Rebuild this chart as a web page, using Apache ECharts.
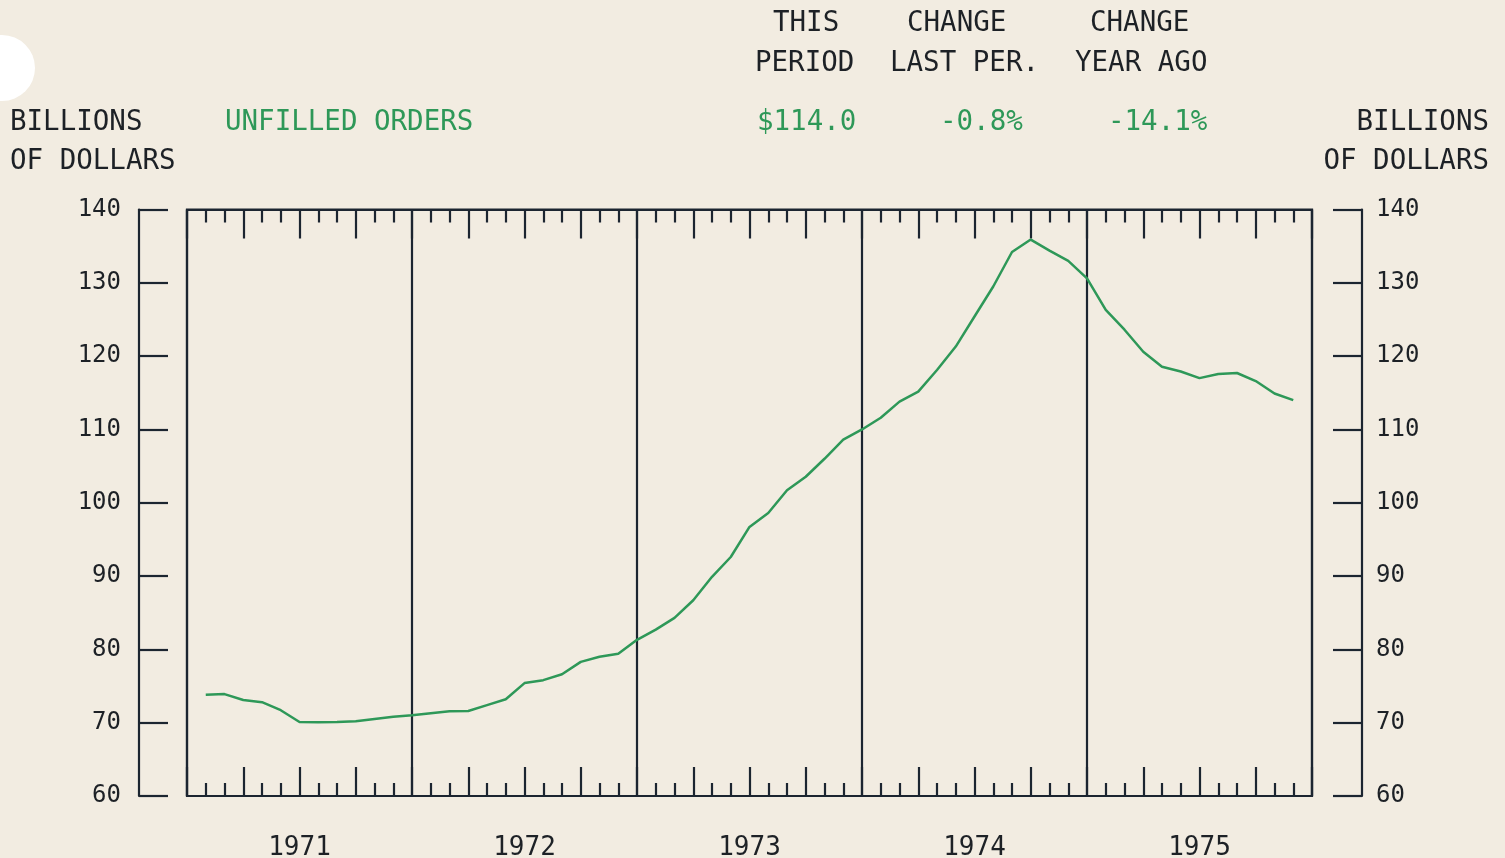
<!DOCTYPE html>
<html>
<head>
<meta charset="utf-8">
<script src="https://cdn.jsdelivr.net/npm/echarts@6/dist/echarts.min.js"></script>
<style>
  html, body { margin: 0; padding: 0; background: #f2ece1; }
  #chart { width: 1505px; height: 858px; }
</style>
</head>
<body>
<div id="chart"></div>
<script>
// ---- data ----
const years = ['1971', '1972', '1973', '1974', '1975'];
// monthly unfilled orders, billions of dollars (month 1 .. 59 of the 60-month span)
const unfilledOrders = [
  73.8, 73.9, 73.1, 72.8, 71.7, 70.1, 70.05, 70.1, 70.2, 70.5, 70.8, 71.0,
  71.3, 71.55, 71.6, 72.4, 73.2, 75.4, 75.8, 76.6, 78.3, 79.0, 79.4, 81.3,
  82.7, 84.3, 86.7, 89.9, 92.6, 96.7, 98.6, 101.7, 103.55, 106.0, 108.6, 110.0,
  111.6, 113.8, 115.15, 118.1, 121.3, 125.4, 129.5, 134.2, 135.9, 134.4, 133.0, 130.6,
  126.3, 123.6, 120.6, 118.55, 117.9, 117.0, 117.55, 117.7, 116.6, 114.9, 114.0
];
const yTicks = [60, 70, 80, 90, 100, 110, 120, 130, 140];
const seriesName = 'UNFILLED ORDERS';
const unitLabel = ['BILLIONS', 'OF DOLLARS'];
const headerTitles = [['THIS', 'PERIOD'], ['CHANGE', 'LAST PER.'], ['CHANGE', 'YEAR AGO']];
const headerValues = ['$114.0', '-0.8%', '-14.1%'];

// ---- style ----
const BG = '#f2ece1';
const INK = '#1d2126';
const AXIS = '#1c2530';
const GREEN = '#2e9858';
const FONT = '"DejaVu Sans Mono", "Liberation Mono", monospace';
const HF = 27.5;

const chart = echarts.init(document.getElementById('chart'), null, { renderer: 'canvas' });

const monthsTotal = years.length * 12;
const lineData = unfilledOrders.map((v, k) => [k + 1, v]);

function txt(text, x, y, color, align) {
  return {
    type: 'text', x: x, y: y,
    style: {
      text: text, fill: color || INK, font: HF + 'px ' + FONT,
      textAlign: align || 'left', textVerticalAlign: 'middle'
    }
  };
}

const headerX = [[773, 755], [907, 890], [1090, 1075]];
const valueX = [757, 940, 1108];
const graphics = [
  { type: 'circle', shape: { cx: 2, cy: 68, r: 33 }, style: { fill: '#ffffff' } },
  txt(unitLabel[0], 10, 123),
  txt(unitLabel[1], 10, 162),
  txt(seriesName, 225, 123, GREEN),
  txt(unitLabel[0], 1489, 123, INK, 'right'),
  txt(unitLabel[1], 1489, 162, INK, 'right')
];
headerTitles.forEach((pair, k) => {
  graphics.push(txt(pair[0], headerX[k][0], 24));
  graphics.push(txt(pair[1], headerX[k][1], 64));
  graphics.push(txt(headerValues[k], valueX[k], 123, GREEN));
});

const monthAxis = (pos) => ({
  type: 'value', position: pos, gridIndex: 0,
  min: 0, max: monthsTotal, interval: 3,
  axisLine: { show: true, onZero: false, lineStyle: { color: AXIS, width: 2.2 } },
  axisTick: { show: true, inside: true, length: 29, lineStyle: { color: AXIS, width: 2.2 } },
  minorTick: { show: true, splitNumber: 3, length: 13, lineStyle: { color: AXIS, width: 2.2 } },
  axisLabel: { show: false },
  splitLine: { show: false },
  minorSplitLine: { show: false }
});

const valueAxis = (pos, offset, labelAlignMargin) => ({
  type: 'value', position: pos, offset: offset,
  min: yTicks[0], max: yTicks[yTicks.length - 1], interval: yTicks[1] - yTicks[0],
  axisLine: { show: true, onZero: false, lineStyle: { color: AXIS, width: 2.2 } },
  axisTick: { show: true, inside: true, length: 29, lineStyle: { color: AXIS, width: 2.2 } },
  axisLabel: { show: true, margin: labelAlignMargin, color: INK, fontSize: 24, fontFamily: FONT },
  splitLine: { show: false }
});

chart.setOption({
  backgroundColor: BG,
  animation: false,
  grid: {
    left: 187, right: 193, top: 209.5, bottom: 62,
    show: true, borderColor: AXIS, borderWidth: 2.2, backgroundColor: 'transparent',
    outerBoundsMode: 'none', containLabel: false
  },
  xAxis: [
    monthAxis('bottom'),
    monthAxis('top'),
    {
      type: 'category', position: 'bottom', gridIndex: 0,
      data: years, boundaryGap: true,
      axisLine: { show: false, onZero: false },
      axisTick: { show: false },
      axisLabel: { show: true, interval: 0, margin: 39, color: INK, fontSize: 26, fontFamily: FONT },
      splitLine: { show: true, interval: 0, lineStyle: { color: AXIS, width: 2.2 } }
    }
  ],
  yAxis: [
    valueAxis('left', 48, 18),
    valueAxis('right', 50, 14)
  ],
  graphic: graphics,
  series: [{
    name: seriesName,
    type: 'line',
    xAxisIndex: 0, yAxisIndex: 0,
    data: lineData,
    showSymbol: false,
    smooth: false,
    lineStyle: { color: GREEN, width: 2.5 },
    z: 5
  }]
});
</script>
</body>
</html>
